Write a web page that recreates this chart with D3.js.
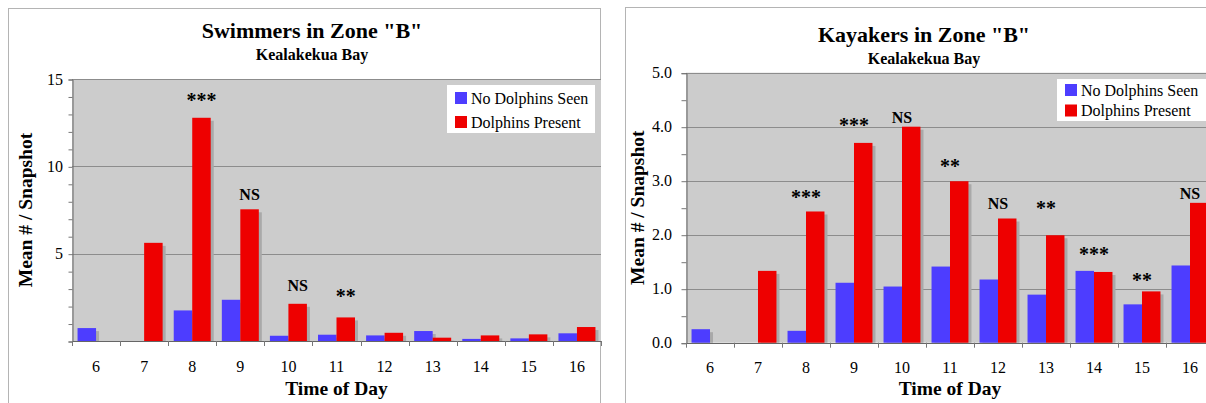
<!DOCTYPE html>
<html>
<head>
<meta charset="utf-8">
<script src="https://cdn.jsdelivr.net/npm/d3@7"></script>
<style>
    body { margin: 0; background: #fff; }
    svg text { font-family: "Liberation Serif", "Times New Roman", serif; fill: #000; }
</style>
</head>
<body>
<div id="charts"></div>
<script>
// Hours on the x axis (shared by both charts)
const hours = [6, 7, 8, 9, 10, 11, 12, 13, 14, 15, 16];
const seriesNames = ["No Dolphins Seen", "Dolphins Present"];
const seriesColors = ["#4d3dff", "#ee0000"];

// Swimmers, mean # per snapshot
const swimNoDolphins = [0.74, 0, 1.75, 2.36, 0.30, 0.36, 0.32, 0.57, 0.12, 0.15, 0.44];
const swimDolphins = [0, 5.62, 12.78, 7.54, 2.13, 1.35, 0.47, 0.19, 0.32, 0.38, 0.80];
const swimTicks = [5, 10, 15];
const swimNoteHours = [8, 9, 10, 11];
const swimNoteLabels = ["***", "NS", "NS", "**"];
const swimNoteLevels = [13.4, 8.1, 2.87, 2.15];

// Kayakers, mean # per snapshot
const kayakNoDolphins = [0.25, 0, 0.22, 1.11, 1.04, 1.41, 1.17, 0.89, 1.33, 0.71, 1.43];
const kayakDolphins = [0, 1.33, 2.43, 3.70, 4.00, 2.99, 2.30, 1.99, 1.31, 0.95, 2.59];
const kayakTicks = [0, 1, 2, 3, 4, 5];
const kayakNoteHours = [8, 9, 10, 11, 12, 13, 14, 15, 16];
const kayakNoteLabels = ["***", "***", "NS", "**", "NS", "**", "***", "**", "NS"];
const kayakNoteLevels = [2.56, 3.91, 4.07, 3.14, 2.47, 2.36, 1.51, 1.03, 2.66];

const svg = d3.select("#charts").append("svg")
    .attr("width", 1206)
    .attr("height", 403)
    .style("font-family", "'Liberation Serif', 'Times New Roman', serif");

function chart(opt) {
    const g = svg.append("g");

    // outer frame
    g.append("rect")
        .attr("x", opt.frame[0]).attr("y", opt.frame[1])
        .attr("width", opt.frame[2]).attr("height", opt.frame[3])
        .attr("fill", "#fff")
        .attr("stroke", "#b4b4b4");

    const x = d3.scaleBand()
        .domain(hours)
        .range([opt.left, opt.right]);

    const xInner = d3.scaleBand()
        .domain(seriesNames)
        .range([0, x.bandwidth()])
        .paddingOuter(0.3);

    const y = d3.scaleLinear()
        .domain([0, opt.yMax])
        .range([opt.bottom, opt.top]);

    // plot background
    g.append("rect")
        .attr("x", opt.left).attr("y", opt.top)
        .attr("width", opt.right - opt.left).attr("height", opt.bottom - opt.top)
        .attr("fill", "#cccccc");

    // gridlines at the major ticks
    g.selectAll(".grid")
        .data(opt.ticks.filter(t => t > 0))
        .enter().append("line")
        .attr("x1", opt.left).attr("x2", opt.right)
        .attr("y1", d => Math.round(y(d)) + 0.5).attr("y2", d => Math.round(y(d)) + 0.5)
        .attr("stroke", "#8c8c8c");

    // y axis with minor ticks
    const yAxis = d3.axisLeft(y)
        .tickValues(d3.range(0, opt.yMax + 1e-9, opt.minor))
        .tickSize(opt.tickLen)
        .tickFormat("");
    const ya = g.append("g")
        .attr("transform", `translate(${Math.round(opt.left) + 0.5},0.5)`)
        .call(yAxis);
    ya.select(".domain").attr("stroke", "#666");
    ya.selectAll(".tick line").attr("stroke", "#777");

    // y tick labels
    g.selectAll(".ylab")
        .data(opt.ticks)
        .enter().append("text")
        .attr("x", opt.left - opt.labelGap)
        .attr("y", d => y(d))
        .attr("dy", "0.35em")
        .attr("text-anchor", "end")
        .style("font-size", "16px")
        .text(d => opt.fmt(d));

    // x axis: ticks between categories
    const bounds = hours.map(h => x(h)).concat([opt.right]);
    g.append("line")
        .attr("x1", opt.left).attr("x2", opt.right)
        .attr("y1", Math.round(opt.bottom) + 0.5).attr("y2", Math.round(opt.bottom) + 0.5)
        .attr("stroke", "#666");
    g.selectAll(".xtick")
        .data(bounds)
        .enter().append("line")
        .attr("x1", d => Math.round(d) + 0.5).attr("x2", d => Math.round(d) + 0.5)
        .attr("y1", opt.bottom).attr("y2", opt.bottom + 5)
        .attr("stroke", "#777");

    g.selectAll(".xlab")
        .data(hours)
        .enter().append("text")
        .attr("x", d => x(d) + x.bandwidth() / 2)
        .attr("y", opt.xLabelY)
        .attr("text-anchor", "middle")
        .style("font-size", "16px")
        .text(d => d);

    // bars
    const rows = [];
    hours.forEach((h, i) => {
        rows.push({ hour: h, key: seriesNames[0], value: opt.values[0][i], color: seriesColors[0] });
        rows.push({ hour: h, key: seriesNames[1], value: opt.values[1][i], color: seriesColors[1] });
    });
    const nonZero = rows.filter(d => d.value > 0);

    // drop shadows
    g.selectAll(".shadow")
        .data(nonZero)
        .enter().append("rect")
        .attr("x", d => x(d.hour) + xInner(d.key) + 3)
        .attr("y", d => y(d.value) + 3)
        .attr("width", xInner.bandwidth())
        .attr("height", d => Math.max(0, opt.bottom - y(d.value) - 3))
        .attr("fill", "#a9a9a9");

    g.selectAll(".bar")
        .data(nonZero)
        .enter().append("rect")
        .attr("x", d => x(d.hour) + xInner(d.key))
        .attr("y", d => y(d.value))
        .attr("width", xInner.bandwidth())
        .attr("height", d => opt.bottom - y(d.value))
        .attr("fill", d => d.color);

    // significance notes
    g.selectAll(".note")
        .data(opt.noteHours.map((h, i) => ({ hour: h, label: opt.noteLabels[i], level: opt.noteLevels[i] })))
        .enter().append("text")
        .attr("x", d => {
            if (opt.noteOnRed) return x(d.hour) + xInner(seriesNames[1]) + xInner.bandwidth() / 2;
            return x(d.hour) + x.bandwidth() / 2;
        })
        .attr("y", d => y(d.level))
        .attr("text-anchor", "middle")
        .style("font-size", d => d.label.startsWith("*") ? "20px" : "16px")
        .style("font-weight", "bold")
        .text(d => d.label);

    // titles
    g.append("text")
        .attr("x", opt.titleX).attr("y", opt.titleY)
        .attr("text-anchor", "middle")
        .style("font-size", "22px").style("font-weight", "bold")
        .text(opt.title);
    g.append("text")
        .attr("x", opt.titleX).attr("y", opt.titleY + 22)
        .attr("text-anchor", "middle")
        .style("font-size", "16px").style("font-weight", "bold")
        .text("Kealakekua Bay");

    g.append("text")
        .attr("transform", `translate(${opt.yTitleX},${(opt.top + opt.bottom) / 2}) rotate(-90)`)
        .attr("text-anchor", "middle")
        .style("font-size", "19.5px").style("font-weight", "bold")
        .text("Mean # / Snapshot");

    g.append("text")
        .attr("x", (opt.left + opt.right) / 2).attr("y", 395)
        .attr("text-anchor", "middle")
        .style("font-size", "19.5px").style("font-weight", "bold")
        .text("Time of Day");

    // legend
    const lg = g.append("g")
        .attr("transform", `translate(${opt.legend[0]},${opt.legend[1]})`);
    lg.append("rect")
        .attr("width", opt.legend[2]).attr("height", opt.legend[3])
        .attr("fill", "#fff");
    const items = lg.selectAll(".legend-item")
        .data(seriesNames)
        .enter().append("g")
        .attr("transform", (d, i) => `translate(8,${opt.legendPad + i * opt.legendStep})`);
    items.append("rect")
        .attr("width", 12).attr("height", 12)
        .attr("fill", (d, i) => seriesColors[i]);
    items.append("text")
        .attr("x", 16).attr("y", 11.5)
        .style("font-size", "16px")
        .text(d => d);
}

chart({
    title: "Swimmers in Zone \"B\"",
    values: [swimNoDolphins, swimDolphins],
    ticks: swimTicks, yMax: 15, minor: 1, fmt: d => d,
    noteHours: swimNoteHours, noteLabels: swimNoteLabels, noteLevels: swimNoteLevels, noteOnRed: true,
    frame: [8.5, 8.5, 592, 420],
    left: 72, right: 601, top: 79, bottom: 341,
    tickLen: 4, labelGap: 9, xLabelY: 372,
    titleX: 312, titleY: 38, yTitleX: 32,
    legend: [447, 85, 148, 48], legendPad: 7, legendStep: 24
});

chart({
    title: "Kayakers in Zone \"B\"",
    values: [kayakNoDolphins, kayakDolphins],
    ticks: kayakTicks, yMax: 5, minor: 0.5, fmt: d3.format(".1f"),
    noteHours: kayakNoteHours, noteLabels: kayakNoteLabels, noteLevels: kayakNoteLevels, noteOnRed: false,
    frame: [625.5, 7.5, 600, 420],
    left: 686, right: 1214, top: 72.7, bottom: 342.7,
    tickLen: 5, labelGap: 14, xLabelY: 373,
    titleX: 924, titleY: 42, yTitleX: 644,
    legend: [1057, 79, 150, 42], legendPad: 5, legendStep: 20.5
});
</script>
</body>
</html>
